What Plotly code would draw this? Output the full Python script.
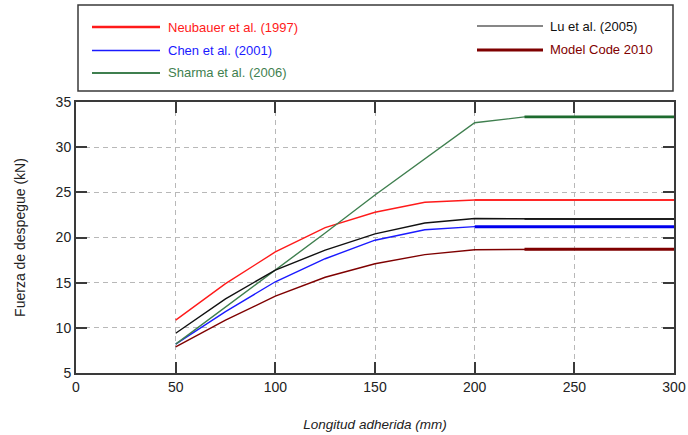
import plotly.graph_objects as go

# Bond length (mm) and debonding force (kN) for each model
longitud = [50, 75, 100, 125, 150, 175, 200, 225, 250, 275, 300]

neubauer = [10.85, 14.9, 18.4, 21.1, 22.8, 23.9, 24.15, 24.15, 24.15, 24.15, 24.15]
chen = [8.2, 11.8, 15.1, 17.65, 19.7, 20.85, 21.2, 21.2, 21.2, 21.2, 21.2]
sharma = [8.2, 12.3, 16.3, 20.5, 24.7, 28.7, 32.7, 33.35, 33.35, 33.35, 33.35]
lu = [9.4, 13.2, 16.4, 18.6, 20.4, 21.6, 22.1, 22.05, 22.05, 22.05, 22.05]
model_code = [7.9, 10.85, 13.5, 15.6, 17.1, 18.1, 18.65, 18.7, 18.7, 18.7, 18.7]

nombres = ["Neubauer et al. (1997)", "Chen et al. (2001)", "Sharma et al. (2006)",
           "Lu et al. (2005)", "Model Code 2010"]
colores = ["#ff1a1a", "#1a1aff", "#3f7f4f", "#111111", "#7f0000"]
meseta_color = ["#ff1a1a", "#0000ee", "#1d6b2e", "#111111", "#7f0000"]
series = [neubauer, chen, sharma, lu, model_code]
# index where the plateau (drawn heavier) starts, and its width
meseta_inicio = [6, 6, 7, 7, 7]
meseta_ancho = [1.4, 3.0, 2.6, 1.4, 2.8]

fig = go.Figure()
for nom, col, ys, i0, w, cm in zip(nombres, colores, series, meseta_inicio, meseta_ancho, meseta_color):
    fig.add_trace(go.Scatter(x=longitud, y=ys, mode="lines", name=nom,
                             line=dict(color=col, width=1.4), showlegend=False))
    fig.add_trace(go.Scatter(x=longitud[i0:], y=ys[i0:], mode="lines", name=nom,
                             line=dict(color=cm, width=w), showlegend=False))

FONT = "Liberation Sans Narrow, Arial Narrow, Liberation Sans, Arial, sans-serif"
axis_common = dict(showline=True, linecolor="#3a3a3a", linewidth=2, mirror="ticks",
                   ticks="inside", ticklen=11, tickwidth=1.5, tickcolor="#3a3a3a",
                   showgrid=True, gridcolor="#b8b8b8", griddash="5px,4px", gridwidth=1,
                   zeroline=False, automargin=False,
                   tickfont=dict(size=14, color="#222222", family=FONT))

fig.update_layout(
    width=688, height=435,
    margin=dict(l=76, r=14, t=102, b=62),
    paper_bgcolor="white", plot_bgcolor="white",
    font=dict(family=FONT, color="#222222"),
    xaxis=dict(range=[0, 300], dtick=50, **axis_common,
               title=dict(text="<i>Longitud adherida (mm)</i>", font=dict(size=13.5), standoff=26)),
    yaxis=dict(range=[5, 35], dtick=5, **axis_common,
               title=dict(text="Fuerza de despegue (kN)", font=dict(size=14), standoff=27)),
)

# Legend box drawn in the top margin
W, H = 598.0, 271.0
def px(x):
    return (x - 76) / W
def py(y):
    return (373 - y) / H

fig.add_shape(type="rect", xref="paper", yref="paper",
              x0=px(78), x1=px(673), y0=py(91), y1=py(5),
              line=dict(color="#3a3a3a", width=1.5), fillcolor="white")

leg_pos = [(92, 160, 166, 27), (92, 160, 166, 50.5), (92, 160, 166, 73),
           (477, 543, 548, 26), (477, 543, 548, 50)]
leg_w = [2.5, 1.5, 2.0, 1.2, 3.0]
for nom, col, (x0, x1, xt, yy), w in zip(nombres, colores, leg_pos, leg_w):
    fig.add_shape(type="line", xref="paper", yref="paper",
                  x0=px(x0), x1=px(x1), y0=py(yy), y1=py(yy),
                  line=dict(color=col, width=w))
    fig.add_annotation(xref="paper", yref="paper", x=px(xt), y=py(yy),
                       text=nom, showarrow=False, xanchor="left", yanchor="middle",
                       font=dict(size=13, color=col, family=FONT))

fig.write_html("out.html")
